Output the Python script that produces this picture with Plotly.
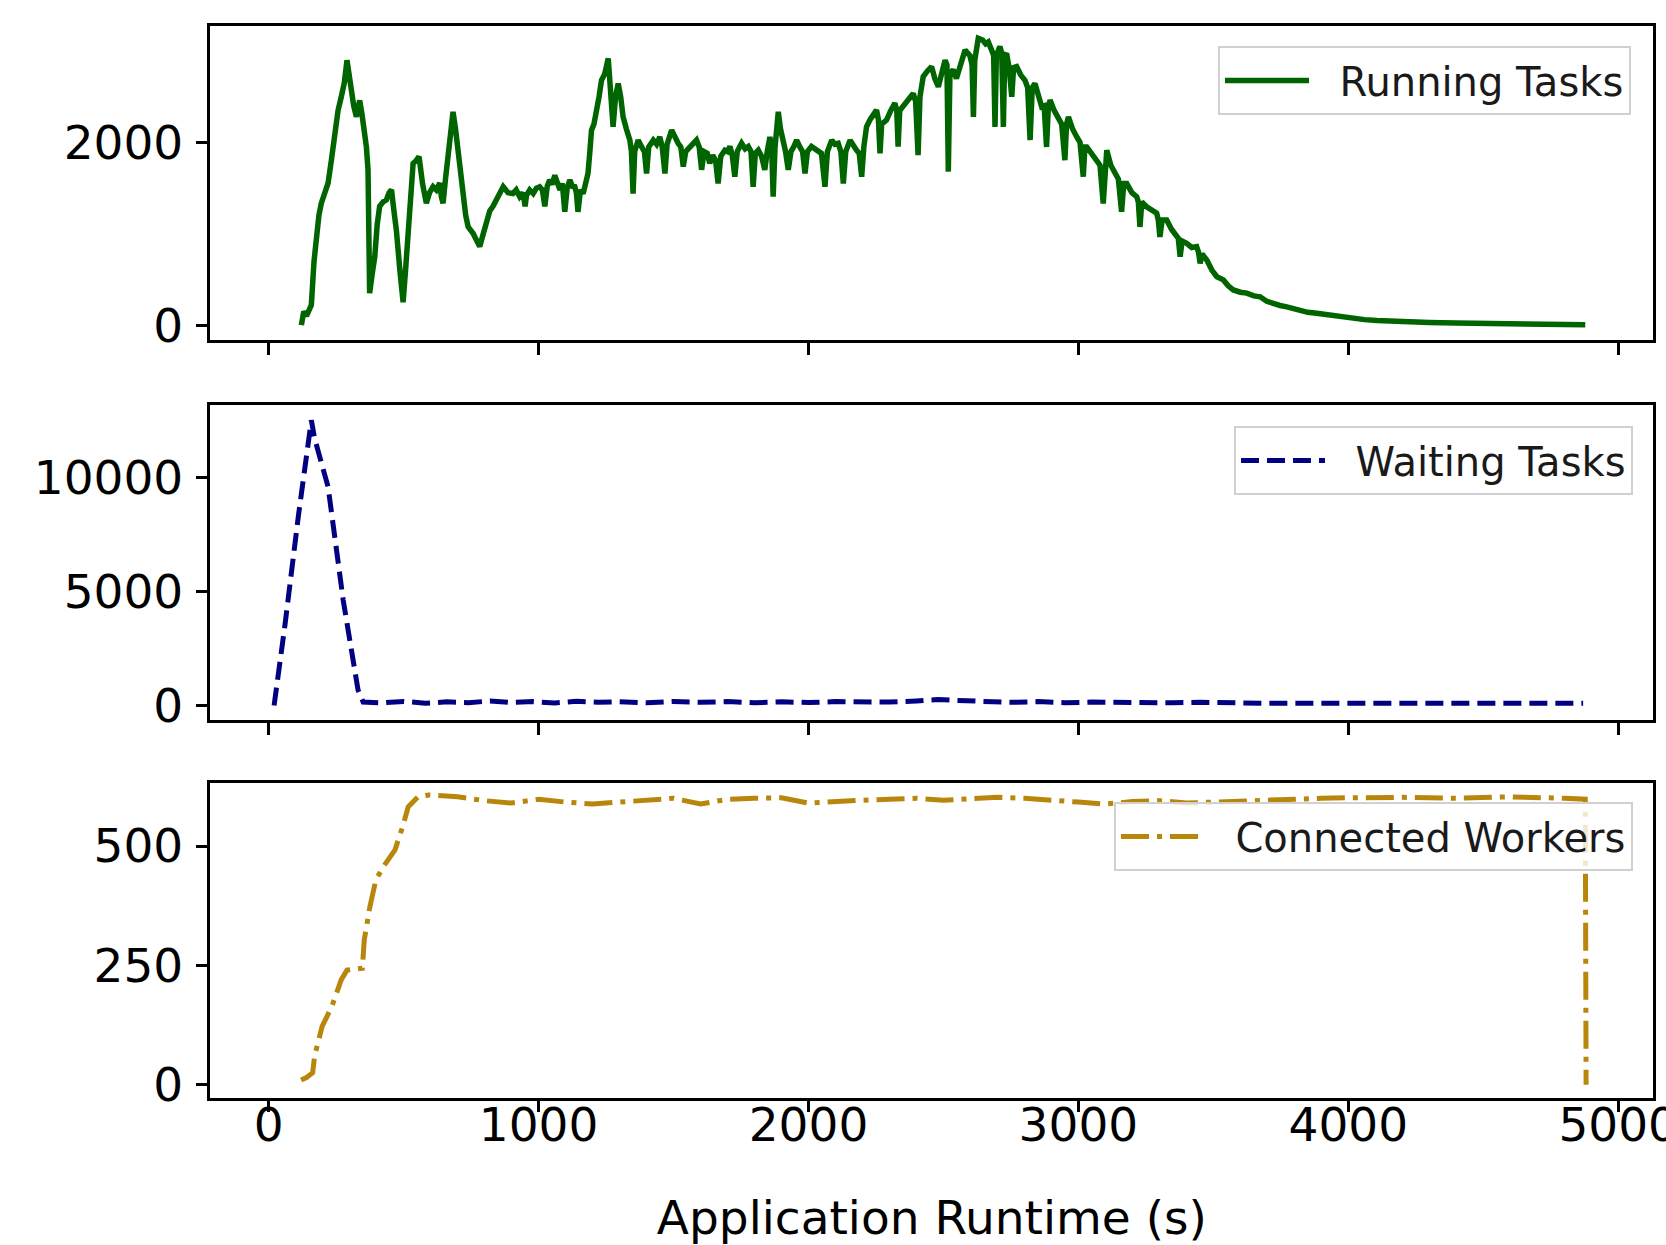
import plotly.graph_objects as go

# ---------------- data ----------------
run_t = [121, 130, 140, 150, 158, 168, 177, 186, 195, 208, 220, 232, 245, 257, 269, 280, 290, 298, 306, 315,
         325, 331, 337, 346, 356, 362, 368, 374,
         383, 393, 402, 411, 424, 436, 446, 455, 464, 473, 486, 498, 507, 516, 526, 535, 546, 557, 570, 584,
         596, 609, 621, 634, 640, 646, 655, 665, 674, 683, 692, 702, 711, 720, 730, 739, 748, 757, 770, 782,
         795, 807, 819, 831, 850, 869, 887, 905, 917, 930, 942, 950, 955, 967, 980, 992, 1004, 1014, 1023, 1032,
         1041, 1050, 1060, 1070, 1079, 1088, 1097, 1106, 1116, 1125, 1134, 1140, 1146, 1155, 1165, 1174, 1183,
         1190, 1196, 1205, 1214, 1224, 1233, 1245, 1258, 1267, 1276, 1285, 1295, 1304, 1313, 1325, 1338, 1344,
         1350, 1356, 1369,
         1382, 1392, 1400, 1408, 1425, 1437, 1449, 1458, 1468, 1476, 1493, 1505, 1517, 1527, 1536, 1545, 1560,
         1572, 1585, 1595, 1604, 1613, 1625, 1634, 1645, 1656, 1665, 1675, 1690, 1700, 1709, 1718, 1727, 1736,
         1752, 1765, 1777, 1787, 1795, 1803, 1814, 1826, 1838, 1847, 1857, 1864, 1869, 1876, 1888, 1896, 1906,
         1915, 1925, 1935, 1945, 1956, 1968, 1978, 1987, 1996, 2011, 2024, 2036, 2048, 2061, 2070, 2086, 2098,
         2110, 2120, 2129, 2138, 2154, 2166, 2178, 2188, 2197, 2205, 2215,
         2228, 2240, 2252, 2259, 2265, 2271, 2289, 2305, 2320, 2327, 2332, 2338, 2357, 2372, 2388, 2397, 2406,
         2413, 2425, 2440, 2456, 2468, 2481, 2493, 2506, 2513, 2518, 2524, 2536, 2548, 2561, 2570, 2580, 2598,
         2606, 2611, 2616, 2629, 2645, 2656, 2666, 2680, 2686, 2691, 2696, 2709, 2716, 2722, 2727,
         2734, 2744, 2753, 2760, 2771, 2786, 2802, 2812, 2821, 2829, 2839, 2852, 2864, 2873, 2882, 2888, 2895,
         2910, 2925, 2938, 2950, 2956, 2963, 2978, 2994, 3006, 3018, 3024, 3031, 3050, 3068, 3080, 3092, 3098,
         3105, 3120, 3136, 3148, 3160, 3168, 3179, 3198, 3216, 3222, 3228, 3235, 3253, 3272, 3290, 3296, 3302,
         3310, 3327, 3345, 3364, 3370, 3377, 3384, 3401, 3420, 3438, 3445, 3451, 3458, 3476, 3495, 3513, 3537,
         3555, 3574, 3600, 3624, 3650, 3673, 3698, 3722, 3747, 3772, 3796, 3821, 3850, 3883, 3915, 3945, 3980,
         4019, 4060, 4106, 4160, 4220, 4300, 4400, 4500, 4600, 4700, 4800, 4878]
run_v = [0, 150, 100, 180, 220, 700, 1040, 1200, 1335, 1450, 1555, 1800, 2135, 2350, 2500, 2650, 2900, 2700, 2570, 2400,
         2280, 2400, 2460, 2300, 2135, 1950, 1700, 350,
         550, 750, 1100, 1300, 1350, 1370, 1450, 1480, 1250, 1040, 600, 250, 600, 1040, 1500, 1770, 1800, 1845, 1550, 1335,
         1450, 1515, 1480, 1555, 1400, 1335, 1600, 1845, 2100, 2335, 2150, 1880, 1600, 1335, 1200, 1075, 1050, 1005, 930, 860,
         1000, 1150, 1250, 1300, 1420, 1515, 1450, 1440, 1480, 1405, 1450, 1300, 1420, 1480, 1440, 1500, 1515, 1480, 1300, 1520,
         1590, 1540, 1640, 1560, 1480, 1550, 1240, 1500, 1590, 1520, 1515, 1450, 1240, 1480, 1440, 1550, 1660,
         1900, 2135, 2200, 2320, 2500, 2680, 2750, 2920, 2600, 2170, 2500, 2645, 2500, 2280, 2150, 2025, 1900,
         1440, 1900, 2025,
         1950, 1900, 1660, 1950, 2025, 1980, 2060, 1950, 1660, 1980, 2135, 2050, 1990, 1950, 1735, 1900, 1955,
         1980, 2025, 1950, 1700, 1900, 1880, 1770, 1860, 1800, 1550, 1850, 1915, 1900, 1955, 1850, 1625, 1900,
         1990, 1930, 1955, 1900, 1515, 1880, 1915, 1850, 1700, 1900, 2060, 1900, 1405, 1950, 2335, 2150, 2025,
         1900, 1700, 1900, 1950, 2025, 1950, 1900, 1660, 1900, 1955, 1930, 1915, 1880, 1515, 1900, 2025, 1980,
         1990, 1900, 1550, 1900, 2025, 1960, 1915, 1880, 1625, 1950, 2170,
         2250, 2300, 2355, 2250, 1880, 2200, 2245, 2350, 2430, 2350, 1955, 2350, 2430, 2480, 2535, 2450, 1860,
         2500, 2720, 2780, 2830, 2700, 2610, 2750, 2900, 2850, 1680, 2750, 2795, 2700, 2830, 2950, 3010, 2950,
         2850, 2280, 2900, 3140, 3120, 3080, 3100, 3000, 2950, 2170, 2950, 3050, 2980, 2170, 2950,
         2975, 2800, 2500, 2820, 2830, 2740, 2680, 2600, 2025, 2600, 2645, 2500, 2390, 2400, 1950, 2350, 2465,
         2350, 2280, 2200, 1805, 2200, 2280, 2150, 2060, 2000, 1625, 1950, 1950, 1880, 1805, 1750, 1330, 1700,
         1915, 1750, 1660, 1600, 1240, 1550, 1550, 1450, 1405, 1350, 1075, 1350, 1295, 1250, 1225, 1150, 965,
         1150, 1150, 1050, 965, 950, 750, 920, 895, 850, 860, 800, 675, 780, 710, 600, 530, 495,
         430, 385, 360, 350, 320, 310, 260, 235, 215, 200, 180, 165, 140, 130, 115, 100, 85,
         70, 60, 50, 42, 35, 28, 22, 18, 14, 11, 8, 5]

wait_t = [20, 60, 110, 140, 158, 170, 201, 220, 276, 331, 350, 420, 500, 580, 660, 740, 820, 900, 980, 1060,
          1140, 1220, 1300, 1400, 1500, 1600, 1700, 1800, 1900, 2000, 2100, 2200, 2300, 2400, 2480, 2550,
          2650, 2750, 2850, 2950, 3050, 3150, 3250, 3350, 3450, 3550, 3700, 3900, 4100, 4300, 4500, 4700, 4870]
wait_v = [0, 3500, 8300, 11035, 12490, 11700, 10450, 9575, 4615, 680, 150, 120, 180, 100, 160, 120, 200, 130, 170, 110,
          190, 140, 160, 120, 180, 140, 170, 120, 160, 130, 170, 140, 150, 200, 260, 220,
          160, 140, 170, 120, 150, 130, 160, 120, 140, 110, 100, 100, 100, 100, 100, 100, 100]

work_t = [120, 140, 163, 170, 198, 234, 269, 290, 347, 354, 375, 397, 425, 468, 496, 517, 553, 595,
          700, 800, 900, 1000, 1100, 1200, 1300, 1400, 1500, 1600, 1700, 1800, 1900, 2000, 2100, 2200,
          2300, 2400, 2500, 2600, 2700, 2800, 2900, 3000, 3100, 3200, 3300, 3400, 3500, 3600, 3700, 3800,
          3900, 4000, 4200, 4400, 4600, 4800, 4878, 4881]
work_v = [10, 15, 25, 60, 122, 164, 220, 240, 244, 303, 373, 429, 457, 492, 540, 582, 603, 607,
          603, 595, 590, 598, 592, 588, 592, 596, 600, 588, 598, 600, 601, 590, 594, 596,
          598, 600, 596, 600, 602, 600, 597, 592, 588, 593, 595, 590, 592, 594, 598, 600,
          600, 601, 602, 600, 603, 600, 598, 0]

x_ticks = [0, 1000, 2000, 3000, 4000, 5000]
run_ticks = [0, 2000]
wait_ticks = [0, 5000, 10000]
work_ticks = [0, 250, 500]

series_names = ["Running Tasks", "Waiting Tasks", "Connected Workers"]
x_title = "Application Runtime (s)"

# ---------------- figure ----------------
FONT = "DejaVu Sans"
W, H = 1666, 1245
PAD = "\u00a0\u00a0"

fig = go.Figure()
fig.add_trace(go.Scatter(x=run_t, y=run_v, mode="lines", name=PAD + series_names[0],
                         line=dict(color="#006400", width=5.5), xaxis="x", yaxis="y", legend="legend"))
fig.add_trace(go.Scatter(x=wait_t, y=wait_v, mode="lines", name=PAD + series_names[1],
                         line=dict(color="#000080", width=5, dash="18px,8px"),
                         xaxis="x2", yaxis="y2", legend="legend2"))
fig.add_trace(go.Scatter(x=work_t, y=work_v, mode="lines", name=PAD + series_names[2],
                         line=dict(color="#B8860B", width=5, dash="28px,8px,5px,8px"),
                         xaxis="x3", yaxis="y3", legend="legend3"))

x_dom = [210.4 / W, 1653.3 / W]
def ydom(top, bot):
    return [1 - bot / H, 1 - top / H]

axis_common = dict(showline=True, mirror=True, linecolor="black", linewidth=2.5,
                   ticks="outside", ticklen=12, tickwidth=2.5, tickcolor="black",
                   showgrid=False, zeroline=False, automargin=False, ticklabeloverflow="allow",
                   tickformat="d",
                   tickfont=dict(family=FONT, size=47, color="black"))

xr = [-216, 5130]
fig.update_layout(
    width=W, height=H,
    margin=dict(l=0, r=0, t=0, b=0),
    paper_bgcolor="white", plot_bgcolor="white",
    font=dict(family=FONT, color="black"),
    showlegend=True,
    xaxis=dict(axis_common, domain=x_dom, anchor="y", range=xr, tickvals=x_ticks, showticklabels=False),
    xaxis2=dict(axis_common, domain=x_dom, anchor="y2", range=xr, tickvals=x_ticks, showticklabels=False),
    xaxis3=dict(axis_common, domain=x_dom, anchor="y3", range=xr, tickvals=x_ticks,
                ticklabelstandoff=-28,
                title=dict(text=x_title, font=dict(family=FONT, size=47, color="black"), standoff=66)),
    yaxis=dict(axis_common, domain=ydom(25.5, 340), anchor="x", range=[-163, 3280], tickvals=run_ticks,
               ticklabelstandoff=3),
    yaxis2=dict(axis_common, domain=ydom(404.8, 720.4), anchor="x2", range=[-652, 13165], tickvals=wait_ticks,
                ticklabelstandoff=3),
    yaxis3=dict(axis_common, domain=ydom(783, 1097.6), anchor="x3", range=[-27, 632], tickvals=work_ticks,
                ticklabelstandoff=3),
)

leg_common = dict(xanchor="right", yanchor="top", bgcolor="rgba(255,255,255,0.8)",
                  bordercolor="#d0d0d0", borderwidth=2,
                  font=dict(family=FONT, size=40, color="#1a1a1a"), itemwidth=84)
fig.update_layout(
    legend=dict(leg_common, x=1631 / W, y=1 - 46 / H),
    legend2=dict(leg_common, x=1633 / W, y=1 - 426 / H),
    legend3=dict(leg_common, x=1633 / W, y=1 - 802 / H),
)

fig.write_html("out.html")
